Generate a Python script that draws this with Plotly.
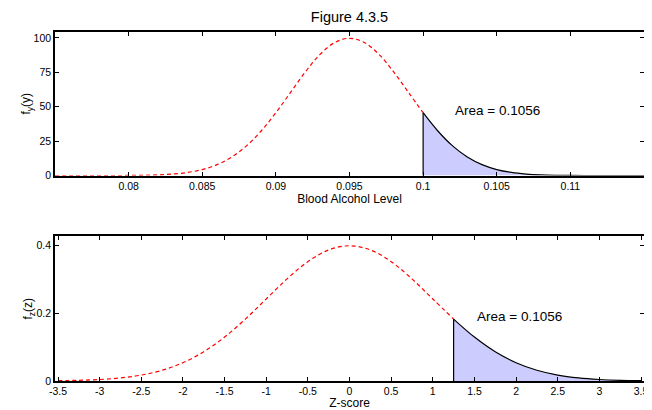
import plotly.graph_objects as go

# Top panel: blood alcohol level density (mean 0.095, sd 0.004)
bal_x = [0.075, 0.076, 0.077, 0.078, 0.079, 0.080, 0.081, 0.082, 0.083, 0.084,
         0.085, 0.086, 0.087, 0.088, 0.089, 0.090, 0.091, 0.092, 0.093, 0.094,
         0.095, 0.096, 0.097, 0.098, 0.099, 0.100, 0.101, 0.102, 0.103, 0.104,
         0.105, 0.106, 0.107, 0.108, 0.109, 0.110, 0.111, 0.112, 0.113, 0.114, 0.115]
bal_y = [0.0, 0.0, 0.0, 0.01, 0.03, 0.09, 0.22, 0.51, 1.11, 2.27,
         4.38, 7.94, 13.50, 21.57, 32.38, 45.66, 60.49, 75.28, 88.02, 96.67,
         99.74, 96.67, 88.02, 75.28, 60.49, 45.66, 32.38, 21.57, 13.50, 7.94,
         4.38, 2.27, 1.11, 0.51, 0.22, 0.09, 0.03, 0.01, 0.0, 0.0, 0.0]
bal_cut = 0.100
bal_ticks = [0.08, 0.085, 0.09, 0.095, 0.1, 0.105, 0.11]
bal_yticks = [0, 25, 50, 75, 100]

# Bottom panel: standard normal density
z_x = [-3.5, -3.25, -3.0, -2.75, -2.5, -2.25, -2.0, -1.75, -1.5, -1.25,
       -1.0, -0.75, -0.5, -0.25, 0.0, 0.25, 0.5, 0.75, 1.0, 1.25,
       1.5, 1.75, 2.0, 2.25, 2.5, 2.75, 3.0, 3.25, 3.5]
z_y = [0.00087, 0.00203, 0.00443, 0.00909, 0.01753, 0.03174, 0.05399, 0.08628, 0.12952, 0.18265,
       0.24197, 0.30114, 0.35207, 0.38667, 0.39894, 0.38667, 0.35207, 0.30114, 0.24197, 0.18265,
       0.12952, 0.08628, 0.05399, 0.03174, 0.01753, 0.00909, 0.00443, 0.00203, 0.00087]
z_cut = 1.25
z_ticks = [-3.5, -3, -2.5, -2, -1.5, -1, -0.5, 0, 0.5, 1, 1.5, 2, 2.5, 3, 3.5]
z_ticklabels = ["-3.5", "-3", "-2.5", "-2", "-1.5", "-1", "-0.5", "0", "0.5", "1", "1.5", "2", "2.5", "3", "3.5"]
z_yticks = [0, 0.2, 0.4]

area_text = "Area = 0.1056"

FONT = "Liberation Sans, Arial, sans-serif"
RED = "#ff0000"
FILL = "#ccccff"


def split(xs, ys, cut):
    left_x = [x for x in xs if x <= cut + 1e-12]
    left_y = ys[:len(left_x)]
    i0 = [k for k, x in enumerate(xs) if x >= cut - 1e-12][0]
    return left_x, left_y, xs[i0:], ys[i0:]


fig = go.Figure()

for xs, ys, cut, xa, ya in [(bal_x, bal_y, bal_cut, "x", "y"),
                            (z_x, z_y, z_cut, "x2", "y2")]:
    lx, ly, rx, ry = split(xs, ys, cut)
    fig.add_trace(go.Scatter(x=rx, y=ry, mode="lines", fill="tozeroy",
                             fillcolor=FILL, line=dict(color="black", width=1.2, shape="spline"),
                             xaxis=xa, yaxis=ya, hoverinfo="skip", showlegend=False))
    fig.add_trace(go.Scatter(x=[rx[0], rx[0]], y=[0, ry[0]], mode="lines",
                             line=dict(color="black", width=1.2),
                             xaxis=xa, yaxis=ya, hoverinfo="skip", showlegend=False))
    fig.add_trace(go.Scatter(x=lx, y=ly, mode="lines",
                             line=dict(color=RED, width=1.2, dash="4px,3px", shape="spline"),
                             xaxis=xa, yaxis=ya, hoverinfo="skip", showlegend=False))

axis_common = dict(showline=True, linecolor="black", linewidth=1.5, mirror="ticks",
                   ticks="inside", ticklen=4, tickcolor="black", showgrid=False,
                   zeroline=False, tickfont=dict(family=FONT, size=10.5, color="black"))

fig.update_layout(
    width=644, height=402,
    margin=dict(l=47, r=4, t=24, b=28),
    plot_bgcolor="white", paper_bgcolor="white",
    font=dict(family=FONT, size=11, color="black"),
    title=dict(text="Figure 4.3.5", x=0.5, xref="paper", y=0.977, yref="container",
               yanchor="middle", font=dict(family=FONT, size=14.5, color="black")),
    xaxis=dict(domain=[0, 1], range=[0.075, 0.115], tickvals=bal_ticks,
               ticktext=[str(t) for t in bal_ticks], anchor="y",
               title=dict(text="Blood Alcohol Level", standoff=0,
                          font=dict(family=FONT, size=12)), **axis_common),
    yaxis=dict(domain=[0.5886, 1.0], range=[0, 104.3], tickvals=bal_yticks, anchor="x",
               title=dict(text="f<sub>y</sub>(y)", standoff=0,
                          font=dict(family=FONT, size=12)), **axis_common),
    xaxis2=dict(domain=[0, 1], range=[-3.536, 3.536], tickvals=z_ticks, ticktext=z_ticklabels,
                anchor="y2",
                title=dict(text="Z-score", standoff=0, font=dict(family=FONT, size=12)),
                **axis_common),
    yaxis2=dict(domain=[0, 0.4143], range=[0, 0.4265], tickvals=z_yticks, anchor="x2",
                title=dict(text="f<sub>z</sub>(z)", standoff=0,
                           font=dict(family=FONT, size=12)), **axis_common),
    annotations=[
        dict(text=area_text, x=0.10205, y=47.1, xref="x", yref="y", xanchor="left",
             yanchor="middle", showarrow=False, font=dict(family=FONT, size=13.5, color="black")),
        dict(text=area_text, x=1.509, y=0.189, xref="x2", yref="y2", xanchor="left",
             yanchor="middle", showarrow=False, font=dict(family=FONT, size=13.5, color="black")),
    ],
)

fig.write_html("out.html")
